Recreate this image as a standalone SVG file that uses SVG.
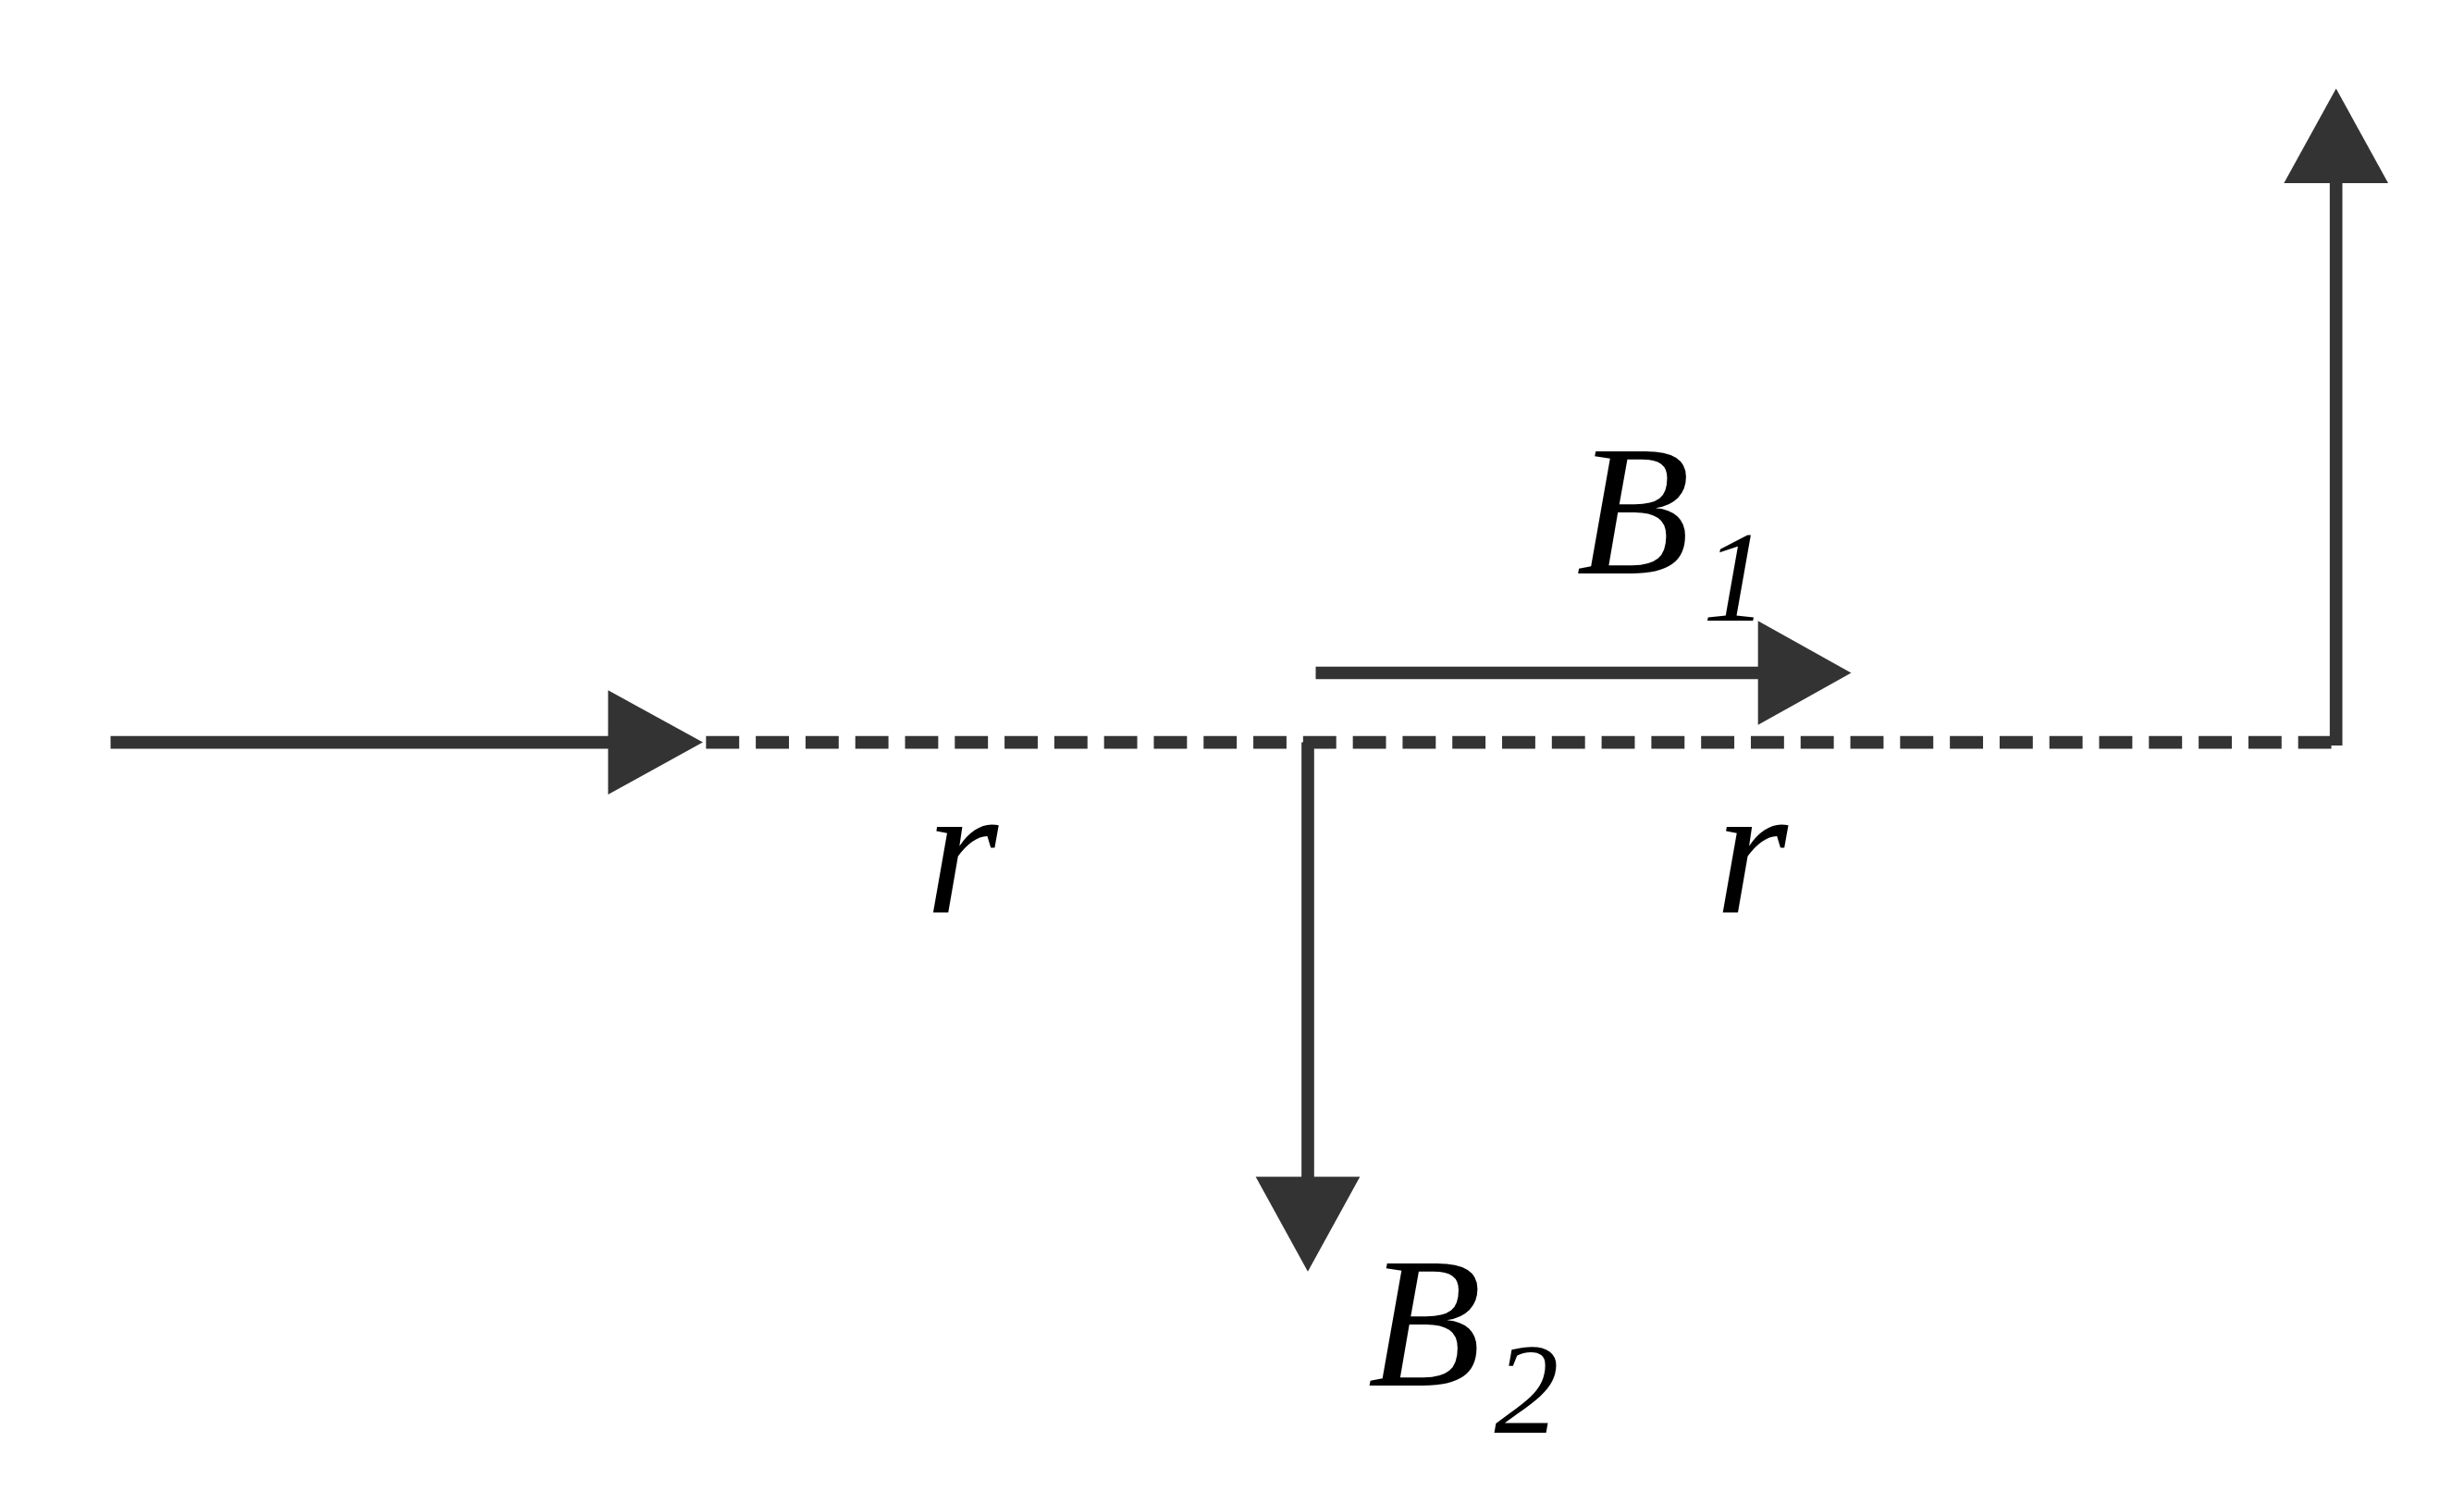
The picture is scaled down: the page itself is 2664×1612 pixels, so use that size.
<svg xmlns="http://www.w3.org/2000/svg" width="2664" height="1612" viewBox="0 0 2664 1612">
<style>
.l{stroke:#333;stroke-width:8;fill:none}
.d{stroke:#333;stroke-width:8;fill:none;stroke-dasharray:21 10.5}
.h{fill:#333}
text{font-family:"Liberation Serif",serif;font-style:italic;fill:#000}
</style>
<rect width="2664" height="1612" fill="#fff"/>
<g transform="scale(1.7077)">
<g id="connectors">
<line class="l" x1="70" y1="470" x2="387" y2="470"/>
<polygon class="h" points="385,437 445,470 385,503"/>
<line class="d" x1="447" y1="470" x2="1483" y2="470"/>
<line class="l" x1="1479" y1="472" x2="1479" y2="113"/>
<polygon class="h" points="1446,116 1479,56 1512,116"/>
<line class="l" x1="833" y1="426" x2="1115" y2="426"/>
<polygon class="h" points="1113,393 1172,426 1113,459"/>
<line class="l" x1="828" y1="470" x2="828" y2="747"/>
<polygon class="h" points="795,745 861,745 828,805"/>
</g>
<g id="B1"><text x="998" y="363" font-size="118">B</text><text x="1078" y="393" font-size="82" font-style="normal">1</text></g>
<g id="r1"><text x="586" y="578" font-size="118">r</text></g>
<g id="r2"><text x="1086" y="578" font-size="118">r</text></g>
<g id="B2"><text x="866" y="877" font-size="118">B</text><text x="946" y="907" font-size="82" font-style="normal">2</text></g>
</g>
</svg>
